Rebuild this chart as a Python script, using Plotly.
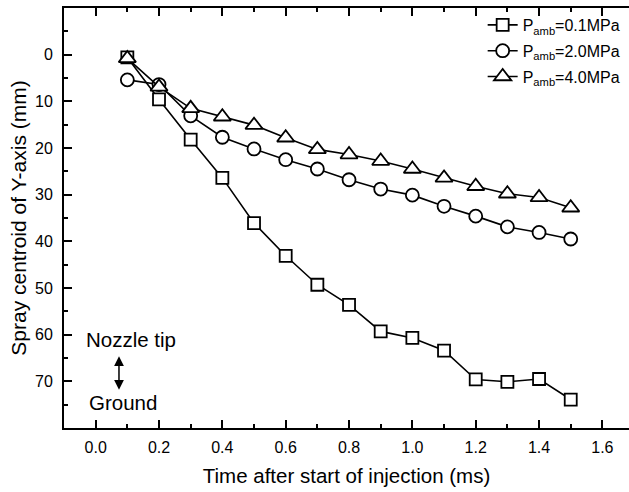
import plotly.graph_objects as go

time_ms = [0.1, 0.2, 0.3, 0.4, 0.5, 0.6, 0.7, 0.8, 0.9, 1.0, 1.1, 1.2, 1.3, 1.4, 1.5]
p01 = [0.6, 9.6, 18.2, 26.4, 36.1, 43.1, 49.3, 53.6, 59.3, 60.7, 63.4, 69.6, 70.1, 69.5, 73.9]
p20 = [5.4, 6.4, 13.1, 17.7, 20.2, 22.5, 24.5, 26.8, 28.8, 30.1, 32.5, 34.6, 36.9, 38.1, 39.5]
p40 = [0.8, 6.9, 11.5, 13.3, 15.1, 17.8, 20.3, 21.4, 22.8, 24.5, 26.4, 28.2, 29.8, 30.6, 32.8]

names = ["P<sub>amb</sub>=0.1MPa", "P<sub>amb</sub>=2.0MPa", "P<sub>amb</sub>=4.0MPa"]
symbols = ["square", "circle", "triangle-up"]
sizes = [12, 13, 15]
series = [p01, p20, p40]

x_ticks = [0.0, 0.2, 0.4, 0.6, 0.8, 1.0, 1.2, 1.4, 1.6]
y_ticks = [0, 10, 20, 30, 40, 50, 60, 70]

FONT = "Liberation Sans, Arial, sans-serif"

fig = go.Figure()
for i, (nm, ys) in enumerate(zip(names, series)):
    fig.add_trace(go.Scatter(
        x=time_ms, y=ys, name=nm, mode="lines+markers",
        legendgroup=f"g{i}",
        line=dict(color="black", width=1.6),
        marker=dict(symbol=symbols[i], size=sizes[i], color="white",
                    line=dict(color="black", width=1.8)),
    ))

fig.update_layout(
    width=629, height=492,
    margin=dict(l=64, r=0, t=8, b=64),
    paper_bgcolor="white", plot_bgcolor="white",
    font=dict(family=FONT, size=16, color="black"),
    showlegend=True,
    legend=dict(x=0.741, y=1.0, xanchor="left", yanchor="top",
                bgcolor="rgba(0,0,0,0)", font=dict(size=16), tracegroupgap=2),
)
fig.update_xaxes(
    range=[-0.1, 1.684], tickvals=x_ticks, ticktext=[f"{v:.1f}" for v in x_ticks],
    ticks="inside", ticklen=8, tickwidth=1.5, tickcolor="black",
    minor=dict(dtick=0.1, tick0=0, ticks="inside", ticklen=4, tickwidth=1.5, tickcolor="black"),
    showline=True, linecolor="black", linewidth=1.8, mirror="allticks",
    showgrid=False, zeroline=False,
    tickfont=dict(size=16), ticklabelstandoff=4,
    title=dict(text="Time after start of injection (ms)", font=dict(size=20.5), standoff=14),
)
fig.update_yaxes(
    range=[80, -10], tickvals=y_ticks,
    ticks="inside", ticklen=8, tickwidth=1.5, tickcolor="black",
    minor=dict(dtick=10, tick0=-5, ticks="inside", ticklen=4, tickwidth=1.5, tickcolor="black"),
    showline=True, linecolor="black", linewidth=1.8, mirror=False,
    showgrid=False, zeroline=False,
    tickfont=dict(size=16), ticklabelstandoff=6,
    title=dict(text="Spray centroid of Y-axis (mm)", font=dict(size=21), standoff=3),
)

fig.add_annotation(x=0.11, y=61.1, xref="x", yref="y", text="Nozzle tip", showarrow=False,
                   font=dict(size=20.5))
fig.add_annotation(x=0.085, y=74.6, xref="x", yref="y", text="Ground", showarrow=False,
                   font=dict(size=20.5))
fig.add_annotation(x=0.0736, y=71.8, ax=0.0736, ay=64.3, xref="x", yref="y", axref="x", ayref="y",
                   text="", showarrow=True, arrowhead=2, startarrowhead=2, arrowside="end+start",
                   arrowsize=1.3, arrowwidth=1.5, arrowcolor="black", standoff=0, startstandoff=0)

fig.write_html("out.html")
